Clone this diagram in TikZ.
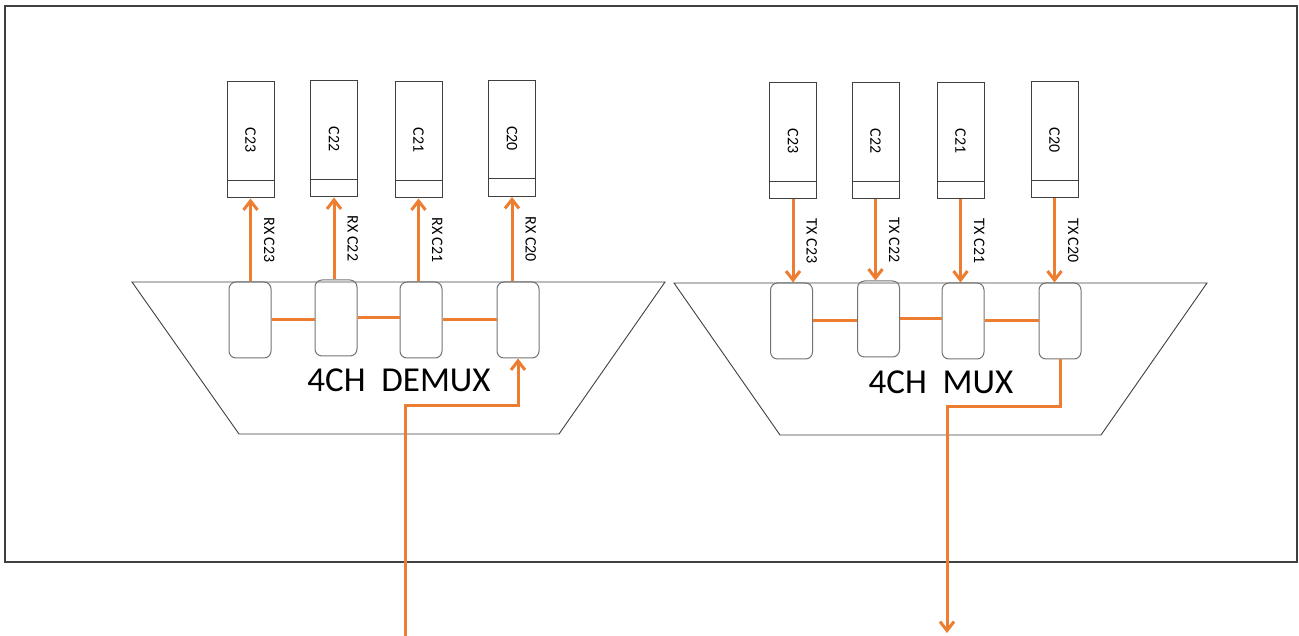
\documentclass[tikz,border=0pt]{standalone}
\usepackage{fontspec}
\setmainfont{Carlito}
\usepackage{graphicx}
\usepackage{tikz}
\usetikzlibrary{positioning,arrows.meta,calc}
\definecolor{mxOrange}{RGB}{237,125,49}
\definecolor{mxDark}{RGB}{64,64,64}
\definecolor{mxGray}{RGB}{115,115,115}

\begin{document}
\begin{tikzpicture}[
    x=1pt, y=-1pt,
    chip/.style={rectangle, draw=mxDark, line width=1pt, minimum width=47pt, minimum height=116pt, inner sep=0pt, font=\fontsize{16}{18}\selectfont},
    port/.style={rectangle, rounded corners=7pt, draw=mxGray, line width=1pt, minimum width=42pt, minimum height=76pt},
    housing/.style={draw=mxDark, line width=0.9pt},
    signal/.style={draw=mxOrange, line width=3pt},
    sig arrow/.style={signal, -{Straight Barb[length=9pt,width=14pt]}},
    sig note/.style={rotate=-90, anchor=south, inner sep=12pt, font=\fontsize{16}{18}\selectfont},
    title/.style={font=\fontsize{35}{40}\selectfont}
]
  \useasboundingbox (0,0) rectangle (1299,636);
  \draw[draw=mxDark, line width=1.3pt] (5,6) rectangle (1297,562);

  % demux side
  \draw[housing] (132,282) -- (665,282) -- (559,434) -- (239,434) -- cycle;
  \node[title] (demux) at (399,380) {4CH\ \ DEMUX};

  \node[chip] (rx23) at (250.5,140) {\rotatebox{-90}{C23}};
  \node[chip] (rx22) at (334,139) {\rotatebox{-90}{C22}};
  \node[chip] (rx21) at (418.5,140) {\rotatebox{-90}{C21}};
  \node[chip] (rx20) at (512,138.5) {\rotatebox{-90}{C20}};

  \node[port] (dp1) at (250,320) {};
  \node[port] (dp2) at (336,318) {};
  \node[port] (dp3) at (421,320) {};
  \node[port] (dp4) at (518,320) {};

  \draw[sig arrow] (rx23.south |- dp1.north) -- node[sig note] {RX C23} (rx23.south);
  \draw[sig arrow] (rx22.south |- dp2.north) -- node[sig note] {RX C22} (rx22.south);
  \draw[sig arrow] (rx21.south |- dp3.north) -- node[sig note] {RX C21} (rx21.south);
  \draw[sig arrow] (rx20.south |- dp4.north) -- node[sig note] {RX C20} (rx20.south);

  \draw[signal] (dp1.east) -- (dp1.east -| dp2.west);
  \draw[signal] (dp2.east) -- (dp2.east -| dp3.west);
  \draw[signal] (dp3.east) -- (dp3.east -| dp4.west);

  \coordinate (demuxIn) at (405,636);
  \draw[sig arrow] (demuxIn) -- ++(0,-231) -| (dp4.south);

  % mux side
  \draw[housing] (674,283) -- (1207,283) -- (1101,435) -- (780,435) -- cycle;
  \node[title] (mux) at (941,382) {4CH\ \ MUX};

  \node[chip] (tx23) at (793,141) {\rotatebox{-90}{C23}};
  \node[chip] (tx22) at (875.5,141) {\rotatebox{-90}{C22}};
  \node[chip] (tx21) at (960.5,141) {\rotatebox{-90}{C21}};
  \node[chip] (tx20) at (1054.5,140) {\rotatebox{-90}{C20}};

  \node[port] (mp1) at (791.5,321) {};
  \node[port] (mp2) at (878.5,319) {};
  \node[port] (mp3) at (963,321) {};
  \node[port] (mp4) at (1060,321) {};

  \draw[sig arrow] (tx23.south) -- node[sig note] {TX C23} (tx23.south |- mp1.north);
  \draw[sig arrow] (tx22.south) -- node[sig note] {TX C22} (tx22.south |- mp2.north);
  \draw[sig arrow] (tx21.south) -- node[sig note] {TX C21} (tx21.south |- mp3.north);
  \draw[sig arrow] (tx20.south) -- node[sig note] {TX C20} (tx20.south |- mp4.north);

  \draw[signal] (mp1.east) -- (mp1.east -| mp2.west);
  \draw[signal] (mp2.east) -- (mp2.east -| mp3.west);
  \draw[signal] (mp3.east) -- (mp3.east -| mp4.west);

  \coordinate (muxOut) at (947,633);
  \draw[sig arrow] (mp4.south) -- ++(0,47) -| (muxOut);

  % lower strip of each chip
  \foreach \c in {rx23,rx22,rx21,rx20,tx23,tx22,tx21,tx20}
    \draw[draw=mxDark, line width=1pt] ([yshift=18pt]\c.south west) -- ([yshift=18pt]\c.south east);
\end{tikzpicture}
\end{document}
